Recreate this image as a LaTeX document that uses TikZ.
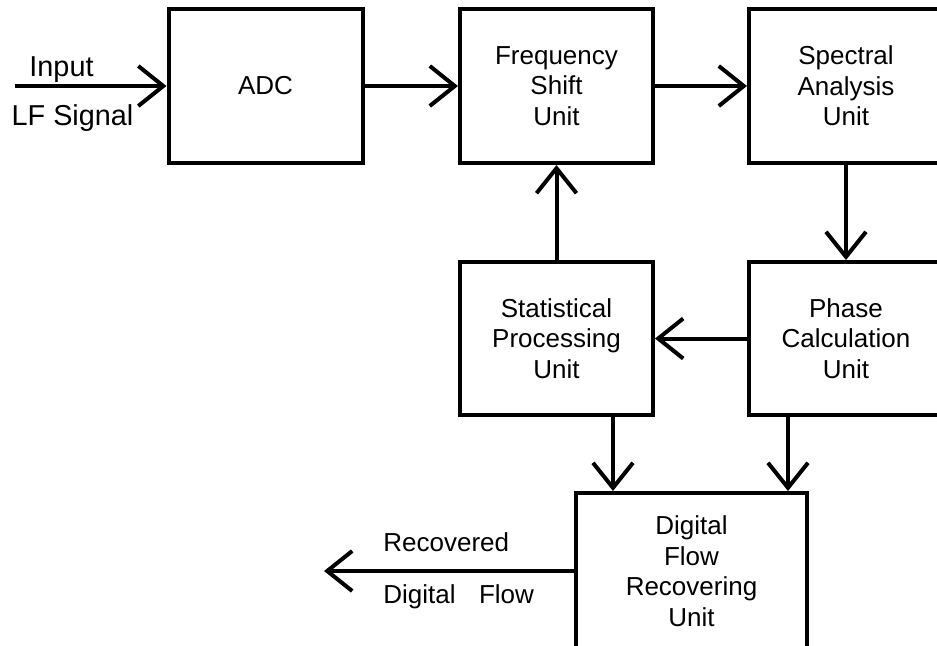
\documentclass[tikz,border=0pt]{standalone}
\usepackage{fontspec}
\setmainfont{Liberation Sans}
\usetikzlibrary{arrows.meta}
\begin{document}
\begin{tikzpicture}[x=0.5pt,y=-0.5pt,
  every node/.style={font=\fontsize{13pt}{15.3pt}\selectfont},
  block/.style={draw,line width=2pt,align=center,inner sep=0pt},
  flow/.style={line width=2pt,-{Straight Barb[length=12.5pt,width=20pt]}},
  lbl/.style={inner sep=0pt},
  biglbl/.style={inner sep=0pt,font=\fontsize{14.4pt}{17pt}\selectfont}]
\useasboundingbox (0,0) rectangle (937,645);
\clip (0,0) rectangle (937,645);

% processing blocks
\node[block,minimum width=97pt,minimum height=77pt] (adc)   at (265.5,86) {ADC};
\node[block,minimum width=96.5pt,minimum height=77pt] (freq) at (556.5,86) {Frequency\\Shift\\Unit};
\node[block,minimum width=97pt,minimum height=77pt] (spec)  at (846,86) {Spectral\\Analysis\\Unit};
\node[block,minimum width=96.5pt,minimum height=76.5pt] (stat) at (556.5,338.5) {Statistical\\Processing\\Unit};
\node[block,minimum width=97pt,minimum height=76.5pt] (phase) at (846,338.5) {Phase\\Calculation\\Unit};
\node[block,minimum width=115.5pt,minimum height=78pt] (dfr) at (691.5,571) {Digital\\Flow\\Recovering\\Unit};

% free ends and drop columns
\coordinate (in)  at (15,86);
\coordinate (out) at (324,571);
\coordinate (cl)  at (613,0);
\coordinate (cr)  at (788,0);

% signal labels
\node[biglbl] (inA)  at (61.5,70)  {Input};
\node[biglbl] (inB)  at (72.5,118) {LF Signal};
\node[lbl,anchor=west] (outA) at (383,542) {Recovered};
\node[lbl,anchor=west] (outB) at (383,597) {Digital\hspace{0.9em}Flow};

% connectors
\draw[flow] (in) -- (adc.west);
\draw[flow] (adc.east) -- (freq.west);
\draw[flow] (freq.east) -- (spec.west);
\draw[flow] (spec.south) -- (phase.north);
\draw[flow] (phase.west) -- (stat.east);
\draw[flow] (stat.north) -- (freq.south);
\draw[flow] (stat.south -| cl) -- (dfr.north -| cl);
\draw[flow] (phase.south -| cr) -- (dfr.north -| cr);
\draw[flow] (dfr.west) -- (out);
\end{tikzpicture}
\end{document}
